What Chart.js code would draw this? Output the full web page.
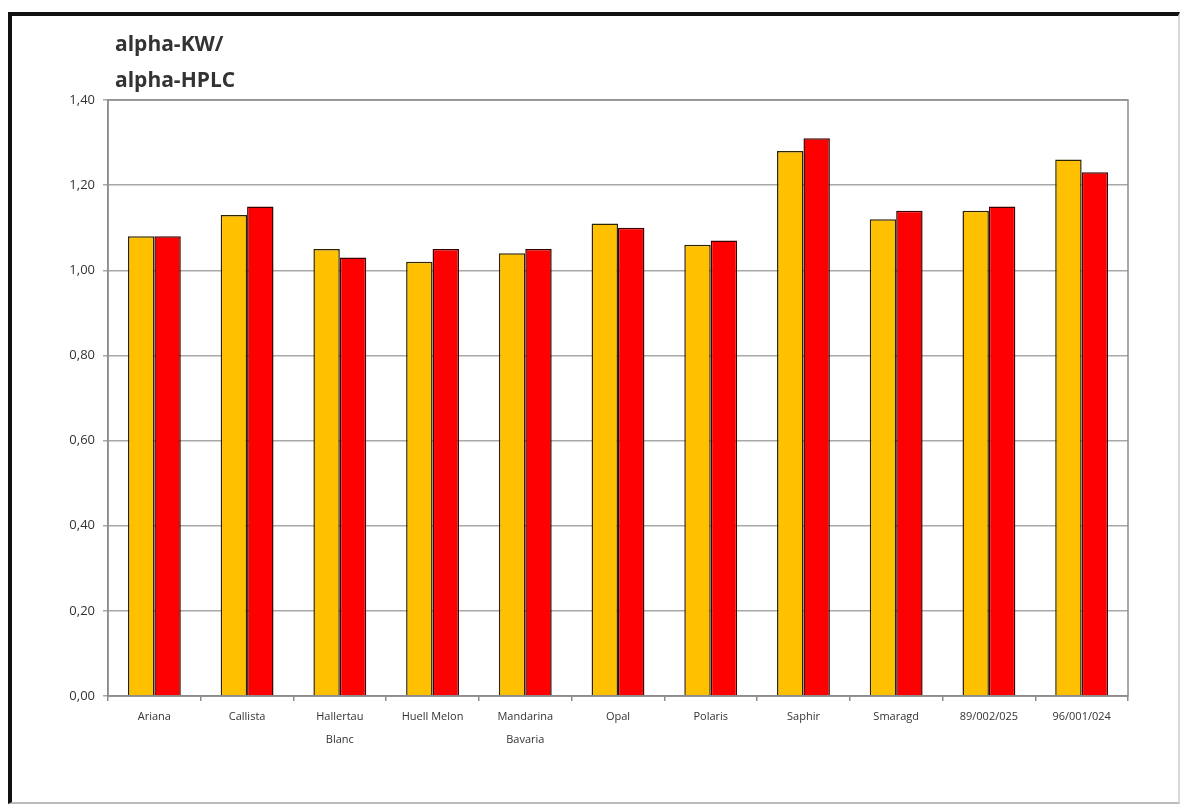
<!DOCTYPE html>
<html>
<head>
<meta charset="utf-8">
<script src="https://cdn.jsdelivr.net/npm/chart.js@4"></script>
<style>
  html, body { margin: 0; padding: 0; background: #fff; }
  #wrap { position: relative; width: 1180px; height: 806px; }
  #frame {
    position: absolute; left: 8px; top: 12px; width: 1166px; height: 786px;
    border-left: 4px solid #111; border-top: 4px solid #111;
    border-right: 2px solid #d8d8d8; border-bottom: 2px solid #bbb;
  }
  #title {
    position: absolute; left: 115px; top: 25px;
    font-family: "Open Sans", sans-serif; font-weight: bold; font-size: 21px;
    line-height: 36px; color: #333;
  }
  canvas { position: absolute; left: 0; top: 0; }
</style>
</head>
<body>
<div id="wrap">
  <div id="frame"></div>
  <canvas id="chartCanvas" width="1180" height="806"></canvas>
  <div id="title">alpha-KW/<br>alpha-HPLC</div>
</div>
<script>
// alpha-KW / alpha-HPLC ratios per variety
const categories = ['Ariana', 'Callista', ['Hallertau', 'Blanc'], 'Huell Melon', ['Mandarina', 'Bavaria'],
    'Opal', 'Polaris', 'Saphir', 'Smaragd', '89/002/025', '96/001/024'];
const seriesOrange = [1.08, 1.13, 1.05, 1.02, 1.04, 1.11, 1.06, 1.28, 1.12, 1.14, 1.26];
const seriesRed = [1.08, 1.15, 1.03, 1.05, 1.05, 1.10, 1.07, 1.31, 1.14, 1.15, 1.23];
const yTicks = [0, 0.2, 0.4, 0.6, 0.8, 1.0, 1.2, 1.4];

// draws the box round the plot area
const plotBorder = {
    id: 'plotBorder',
    afterDraw(chart) {
        const a = chart.chartArea;
        const ctx = chart.ctx;
        ctx.save();
        ctx.strokeStyle = '#8c8c8c';
        ctx.lineWidth = 1.5;
        ctx.strokeRect(a.left, a.top, a.right - a.left, a.bottom - a.top);
        ctx.restore();
    }
};

const ctx = document.getElementById('chartCanvas').getContext('2d');
new Chart(ctx, {
    type: 'bar',
    data: {
        labels: categories,
        datasets: [
            {
                label: 'alpha-KW',
                data: seriesOrange,
                backgroundColor: '#FFC000',
                borderColor: '#2e2300',
                borderWidth: 1.5,
                categoryPercentage: 0.57,
                barPercentage: 1.0
            },
            {
                label: 'alpha-HPLC',
                data: seriesRed,
                backgroundColor: '#FF0000',
                borderColor: '#3a0000',
                borderWidth: 1.5,
                categoryPercentage: 0.57,
                barPercentage: 1.0
            }
        ]
    },
    options: {
        responsive: false,
        animation: false,
        layout: { padding: { top: 100, right: 52, left: 0, bottom: 0 } },
        plugins: {
            legend: { display: false },
            tooltip: { enabled: false }
        },
        scales: {
            x: {
                afterFit(axis) { axis.height = 110; },
                grid: {
                    offset: true,
                    drawOnChartArea: false,
                    tickLength: 5,
                    color: '#8c8c8c',
                    lineWidth: 1.5
                },
                border: { color: '#8c8c8c', width: 1.5 },
                ticks: {
                    color: '#333',
                    font: { family: 'Open Sans', size: 11, lineHeight: 2.1 },
                    padding: 4,
                    maxRotation: 0,
                    autoSkip: false
                }
            },
            y: {
                min: 0,
                max: 1.4,
                afterFit(axis) { axis.width = 108; },
                afterBuildTicks(axis) { axis.ticks = yTicks.map((v) => ({ value: v })); },
                grid: {
                    color: '#a8a8a8',
                    lineWidth: 1.5,
                    tickLength: 5
                },
                border: { color: '#8c8c8c', width: 1.5 },
                ticks: {
                    color: '#333',
                    font: { family: 'Open Sans', size: 13 },
                    padding: 8,
                    callback: (v) => v.toFixed(2).replace('.', ',')
                }
            }
        }
    },
    plugins: [plotBorder]
});
</script>
</body>
</html>
